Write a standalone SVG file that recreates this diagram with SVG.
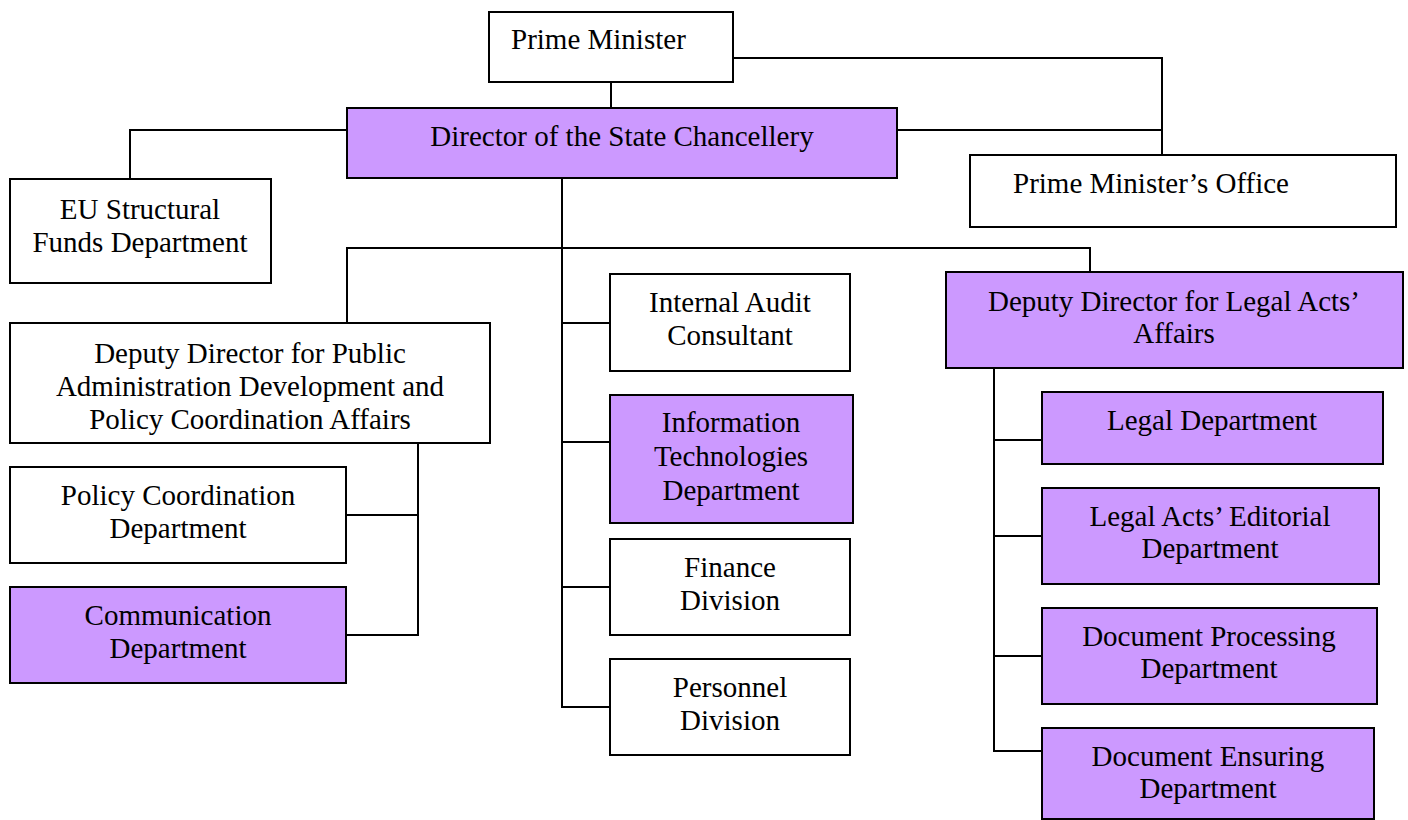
<svg xmlns="http://www.w3.org/2000/svg" width="1408" height="820" viewBox="0 0 1408 820">
<style>
rect{stroke:#000;stroke-width:2}
.w{fill:#fff}
.p{fill:#cc99ff}
text{font-family:"Liberation Serif","Times New Roman",serif;font-size:29px;fill:#000;text-anchor:middle}
.s{text-anchor:start}
#connectors path{fill:none;stroke:#000;stroke-width:2}
</style>
<rect width="1408" height="820" fill="#fff" style="stroke:none"/>
<g id="connectors">
<path d="M611 82V108"/>
<path d="M733 58H1162V155"/>
<path d="M897 130H1162"/>
<path d="M347 130H130V179"/>
<path d="M562 178V707H610"/>
<path d="M347 323V248H1090V272"/>
<path d="M418 443V635H346"/>
<path d="M346 515H418"/>
<path d="M562 323H610"/>
<path d="M562 442H610"/>
<path d="M562 587H610"/>
<path d="M994 368V751H1042"/>
<path d="M994 440H1042"/>
<path d="M994 536H1042"/>
<path d="M994 656H1042"/>
</g>
<g id="pm"><rect class="w" x="489" y="12" width="244" height="70"/><text class="s" x="511" y="49">Prime Minister</text></g>
<g id="director"><rect class="p" x="347" y="108" width="550" height="70"/><text x="622" y="146">Director of the State Chancellery</text></g>
<g id="pmoffice"><rect class="w" x="970" y="155" width="426" height="72"/><text class="s" x="1013" y="193">Prime Minister’s Office</text></g>
<g id="eufunds"><rect class="w" x="10" y="179" width="261" height="104"/><text x="140" y="219">EU Structural</text><text x="140" y="252">Funds Department</text></g>
<g id="deputypa"><rect class="w" x="10" y="323" width="480" height="120"/><text x="250" y="363">Deputy Director for Public</text><text x="250" y="396">Administration Development and</text><text x="250" y="429">Policy Coordination Affairs</text></g>
<g id="policy"><rect class="w" x="10" y="467" width="336" height="96"/><text x="178" y="505">Policy Coordination</text><text x="178" y="538">Department</text></g>
<g id="communication"><rect class="p" x="10" y="587" width="336" height="96"/><text x="178" y="625">Communication</text><text x="178" y="658">Department</text></g>
<g id="audit"><rect class="w" x="610" y="274" width="240" height="97"/><text x="730" y="312">Internal Audit</text><text x="730" y="345">Consultant</text></g>
<g id="it"><rect class="p" x="610" y="395" width="243" height="128"/><text x="731" y="432">Information</text><text x="731" y="466">Technologies</text><text x="731" y="500">Department</text></g>
<g id="finance"><rect class="w" x="610" y="539" width="240" height="96"/><text x="730" y="577">Finance</text><text x="730" y="610">Division</text></g>
<g id="personnel"><rect class="w" x="610" y="659" width="240" height="96"/><text x="730" y="697">Personnel</text><text x="730" y="730">Division</text></g>
<g id="deputylegal"><rect class="p" x="946" y="272" width="457" height="96"/><text x="1174" y="311">Deputy Director for Legal Acts’</text><text x="1174" y="343">Affairs</text></g>
<g id="legal"><rect class="p" x="1042" y="392" width="341" height="72"/><text x="1212" y="430">Legal Department</text></g>
<g id="editorial"><rect class="p" x="1042" y="488" width="337" height="96"/><text x="1210" y="526">Legal Acts’ Editorial</text><text x="1210" y="558">Department</text></g>
<g id="docproc"><rect class="p" x="1042" y="608" width="335" height="96"/><text x="1209" y="646">Document Processing</text><text x="1209" y="678">Department</text></g>
<g id="docens"><rect class="p" x="1042" y="728" width="332" height="91"/><text x="1208" y="766">Document Ensuring</text><text x="1208" y="798">Department</text></g>
</svg>
